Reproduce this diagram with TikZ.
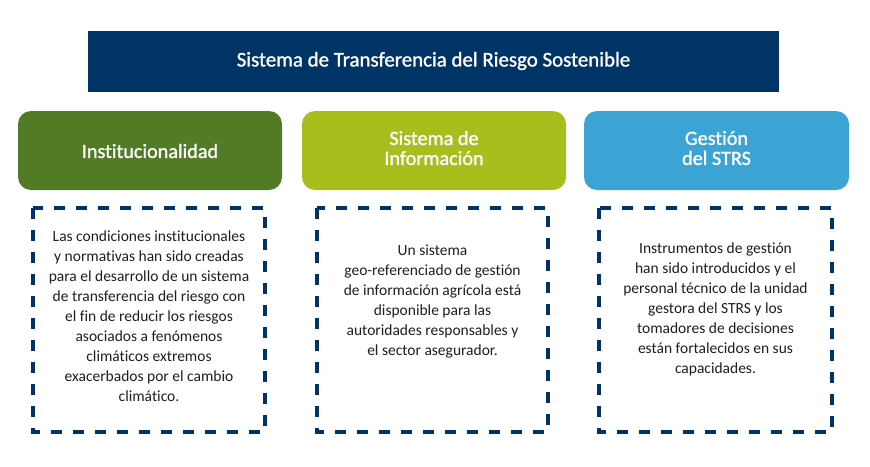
\documentclass[tikz,border=0pt]{standalone}
\usepackage{fontspec}
\setmainfont{Carlito}[Ligatures=NoCommon]
\newfontfamily\medfont{Carlito}[Ligatures=NoCommon, FakeBold=1.2]
\definecolor{navy}{RGB}{0,51,102}
\definecolor{dgreen}{RGB}{82,123,38}
\definecolor{lime}{RGB}{168,190,29}
\definecolor{sky}{RGB}{60,163,213}
\definecolor{bodytxt}{RGB}{30,30,30}
\begin{document}
\begin{tikzpicture}[x=1pt,y=-1pt,
  header/.style={text=white, align=center, font=\medfont\fontsize{20.2}{20}\selectfont},
  dashbox/.style={draw=navy, line width=4pt, dash pattern=on 11pt off 11pt},
  bodytext/.style={align=center, text=bodytxt, font=\fontsize{15.5}{20}\selectfont, anchor=north}]
\useasboundingbox (0,0) rectangle (870,466);
\fill[navy] (88,31) rectangle (779,92);
\node[text=white, font=\medfont\fontsize{20.9}{20}\selectfont] (title) at (433.5,61) {Sistema de Transferencia del Riesgo Sostenible};
\fill[dgreen, rounded corners=13pt] (18,111) rectangle (282,190);
\fill[lime, rounded corners=13pt] (302,111) rectangle (566,190);
\fill[sky, rounded corners=13pt] (584,111) rectangle (849,190);
\node[header] (h1) at (150,151) {Institucionalidad};
\node[header] (h2) at (434,148) {Sistema de\\Información};
\node[header] (h3) at (716.5,148) {Gestión\\del STRS};
\draw[dashbox] (33,208) rectangle (265,432);
\draw[dashbox] (317,208) rectangle (548,432);
\draw[dashbox] (599,208) rectangle (832,432);
\node[bodytext] (b1) at (149,227) {Las condiciones institucionales\\y normativas han sido creadas\\para el desarrollo de un sistema\\de transferencia del riesgo con\\el fin de reducir los riesgos\\asociados a fenómenos\\climáticos extremos\\exacerbados por el cambio\\climático.};
\node[bodytext] (b2) at (432.5,241) {Un sistema\\geo-referenciado de gestión\\de información agrícola está\\disponible para las\\autoridades responsables y\\el sector asegurador.};
\node[bodytext] (b3) at (715.5,239) {Instrumentos de gestión\\han sido introducidos y el\\personal técnico de la unidad\\gestora del STRS y los\\tomadores de decisiones\\están fortalecidos en sus\\capacidades.};
\end{tikzpicture}
\end{document}
